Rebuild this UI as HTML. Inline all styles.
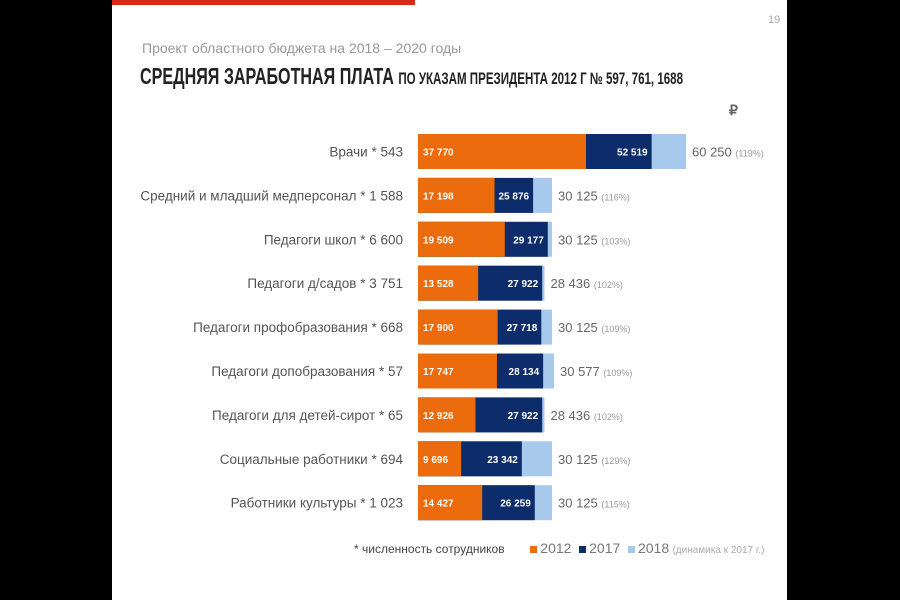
<!DOCTYPE html>
<html><head><meta charset="utf-8"><style>
body{margin:0;width:900px;height:600px;background:#000;overflow:hidden;font-family:"Liberation Sans","Noto Sans CJK SC",sans-serif}
#slide{position:absolute;left:112px;top:0;width:675px;height:600px;background:#fff}
.t{position:absolute;white-space:nowrap}
</style></head><body>
<div id="slide"></div>
<div class="t" style="left:112px;top:0;width:303px;height:5px;background:#d52a1a"></div>
<div class="t" style="left:768px;top:14px;font-size:11px;color:#aaa">19</div>
<div class="t" style="left:142px;top:40px;font-size:14px;color:#999">Проект областного бюджета на 2018 – 2020 годы</div>
<div class="t" style="left:140px;top:63px;font-size:23px;font-weight:bold;color:#222;transform:scaleX(0.70);transform-origin:left">СРЕДНЯЯ ЗАРАБОТНАЯ ПЛАТА <span style="font-size:16.5px">ПО УКАЗАМ ПРЕЗИДЕНТА 2012 Г № 597, 761, 1688</span></div>
<div class="t" style="left:729px;top:102px;font-size:14px;font-weight:bold;color:#666">₽</div>
<svg id="chart" width="900" height="600" style="position:absolute;left:0;top:0"></svg>
<div class="t" style="left:354px;top:540px;font-size:12px;color:#444">* численность сотрудников
<span style="margin-left:22px;display:inline-block;width:7px;height:7px;background:#ec6b0c"></span> <span style="font-size:14px;color:#777">2012</span>
<span style="margin-left:4px;display:inline-block;width:7px;height:7px;background:#0d2c6b"></span> <span style="font-size:14px;color:#777">2017</span>
<span style="margin-left:4px;display:inline-block;width:7px;height:7px;background:#a7c9ec"></span> <span style="font-size:14px;color:#777">2018</span> <span style="font-size:10px;color:#aaa">(динамика к 2017 г.)</span></div>
<script>
const categories=["Врачи * 543","Средний и младший медперсонал * 1 588","Педагоги школ * 6 600","Педагоги д/садов * 3 751","Педагоги профобразования * 668","Педагоги допобразования * 57","Педагоги для детей-сирот * 65","Социальные работники * 694","Работники культуры * 1 023"];
const v2012=[37770,17198,19509,13528,17900,17747,12926,9696,14427];
const v2017=[52519,25876,29177,27922,27718,28134,27922,23342,26259];
const v2018=[60250,30125,30125,28436,30125,30577,28436,30125,30125];
const pct=["119%","116%","103%","102%","109%","109%","102%","129%","115%"];
const svg=document.getElementById('chart');
const NS='http://www.w3.org/2000/svg';
const x0=418,xs=268/60250;
const X=v=>x0+v*xs;
const Y=i=>134+i*43.9;
const fmt=n=>String(n).replace(/\B(?=(\d{3})+$)/g,' ');
function mk(tag,a){const e=document.createElementNS(NS,tag);for(const k in a)e.setAttribute(k,a[k]);svg.appendChild(e);return e;}
categories.forEach((c,i)=>{
  const y=Y(i),h=35;
  let r=mk('rect',{x:x0,y:y,width:X(v2018[i])-x0,height:h,fill:'#a7c9ec'});
  
  r=mk('rect',{x:x0,y:y,width:X(v2017[i])-x0,height:h,fill:'#0d2c6b'});
  
  r=mk('rect',{x:x0,y:y,width:X(v2012[i])-x0,height:h,fill:'#ec6b0c'});
  
  let t=mk('text',{x:x0+5,y:y+h/2+4,fill:'#fff','font-size':10,'font-weight':'bold'});t.textContent=fmt(v2012[i]);
  
  t=mk('text',{x:X(v2017[i])-4,y:y+h/2+4,fill:'#fff','font-size':10,'font-weight':'bold','text-anchor':'end'});t.textContent=fmt(v2017[i]);
  
  t=mk('text',{x:X(v2018[i])+6,y:y+h/2+5,fill:'#666','font-size':13});t.textContent=fmt(v2018[i])+' ';
  const s=document.createElementNS(NS,'tspan');s.setAttribute('font-size','9');s.setAttribute('fill','#999');s.textContent='('+pct[i]+')';t.appendChild(s);
  
  t=mk('text',{x:403,y:y+h/2+5,fill:'#555','font-size':13.5,'text-anchor':'end'});t.textContent=c;
  
});
</script>
</body></html>
